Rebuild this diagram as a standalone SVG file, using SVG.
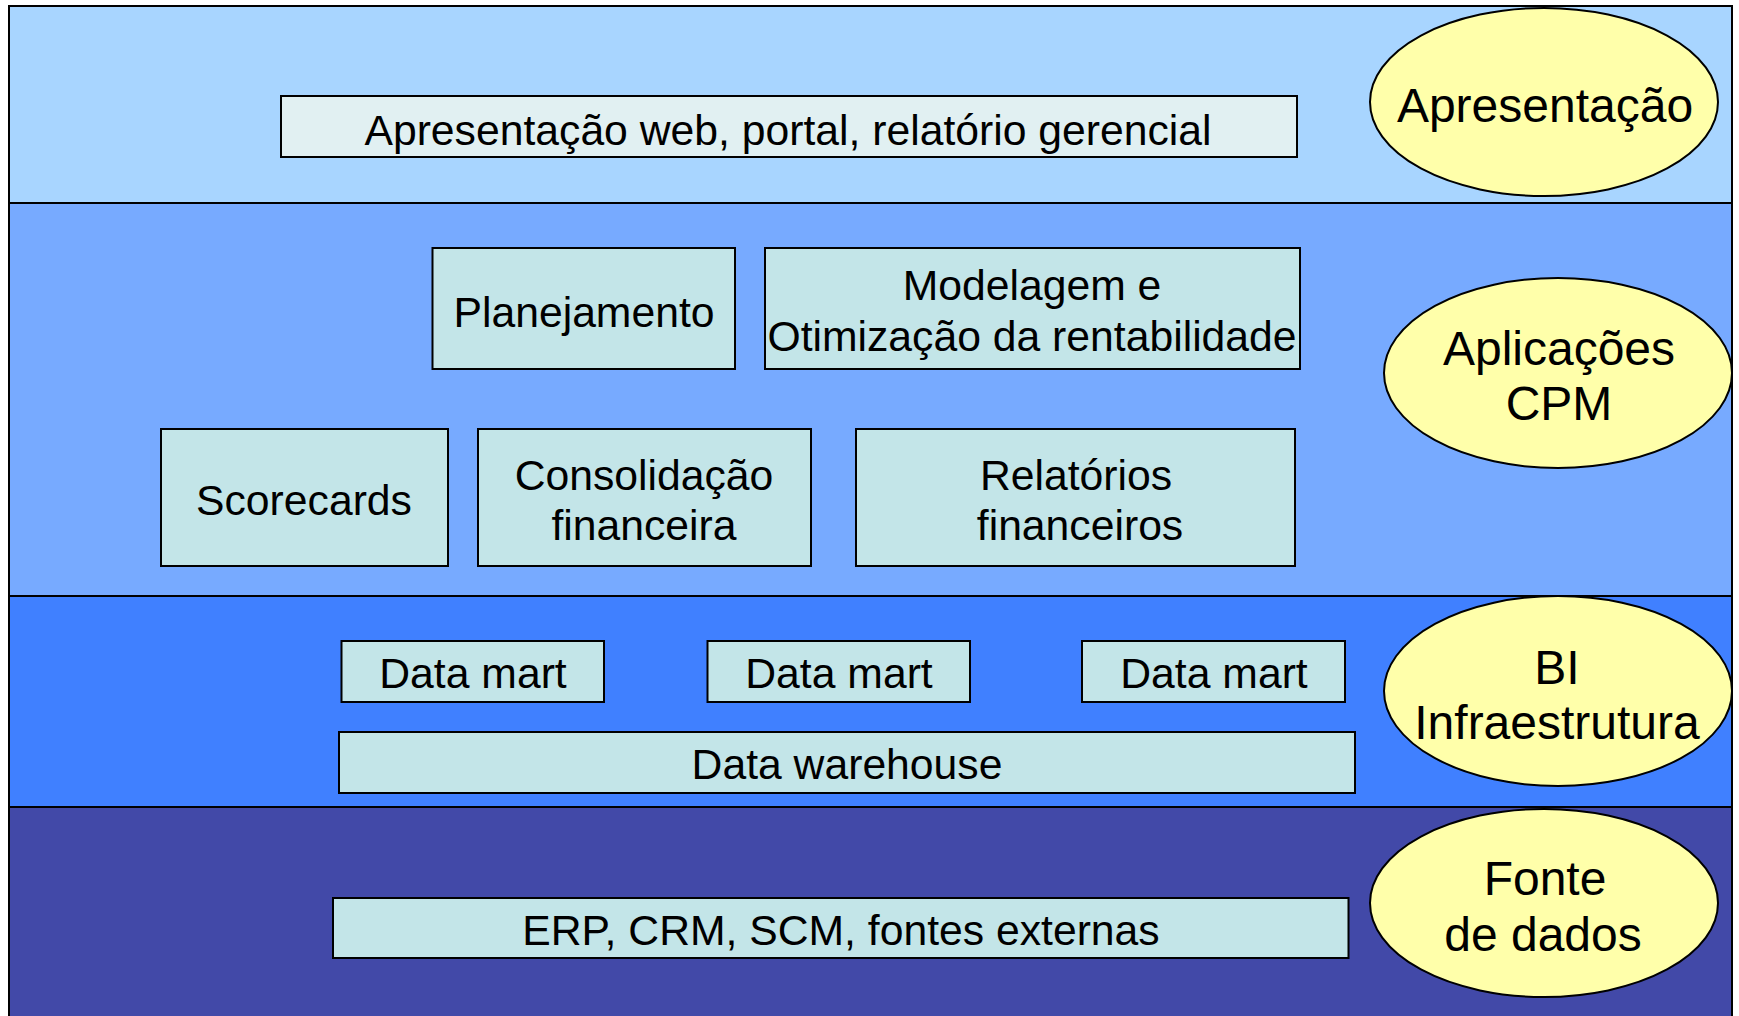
<svg xmlns="http://www.w3.org/2000/svg" width="1739" height="1016" viewBox="0 0 1739 1016">
<style>
.band{stroke:#000;stroke-width:2}
.box{fill:#C3E5E8;stroke:#000;stroke-width:2}
.ell{fill:#FFFFAA;stroke:#000;stroke-width:2}
text{font-family:"Liberation Sans",Arial,sans-serif;fill:#000;text-anchor:middle}
.t{font-size:42.7px}
.e{font-size:48px}
</style>
<rect width="1739" height="1016" fill="#fff"/>
<g id="bands">
<rect class="band" x="9" y="6" width="1723" height="197" fill="#A8D5FF"/>
<rect class="band" x="9" y="203" width="1723" height="393" fill="#77AAFF"/>
<rect class="band" x="9" y="596" width="1723" height="211" fill="#4080FF"/>
<rect class="band" x="9" y="807" width="1723" height="215" fill="#4249A8"/>
</g>
<g id="connectors"></g>
<g id="n-web">
<rect x="281" y="96" width="1016" height="61" fill="#E1F0F2" stroke="#000" stroke-width="2"/>
<text class="t" x="788" y="145">Apresentação web, portal, relatório gerencial</text>
</g>
<g id="n-planejamento">
<rect class="box" x="432.5" y="248" width="302.5" height="121"/>
<text class="t" x="584" y="327">Planejamento</text>
</g>
<g id="n-modelagem">
<rect class="box" x="765" y="248" width="535" height="121"/>
<text class="t" x="1032" y="300">Modelagem e</text>
<text class="t" x="1032" y="351">Otimização da rentabilidade</text>
</g>
<g id="n-scorecards">
<rect class="box" x="161" y="429" width="287" height="137"/>
<text class="t" x="304" y="515">Scorecards</text>
</g>
<g id="n-consolidacao">
<rect class="box" x="478" y="429" width="333" height="137"/>
<text class="t" x="644" y="490">Consolidação</text>
<text class="t" x="644" y="540">financeira</text>
</g>
<g id="n-relatorios">
<rect class="box" x="856" y="429" width="439" height="137"/>
<text class="t" x="1076" y="490">Relatórios</text>
<text class="t" x="1080" y="540">financeiros</text>
</g>
<g id="n-dm1">
<rect class="box" x="341.5" y="641" width="262.5" height="61"/>
<text class="t" x="473" y="688">Data mart</text>
</g>
<g id="n-dm2">
<rect class="box" x="707.5" y="641" width="262.5" height="61"/>
<text class="t" x="839" y="688">Data mart</text>
</g>
<g id="n-dm3">
<rect class="box" x="1082" y="641" width="263" height="61"/>
<text class="t" x="1214" y="688">Data mart</text>
</g>
<g id="n-dw">
<rect class="box" x="339" y="732" width="1016" height="61"/>
<text class="t" x="847" y="779">Data warehouse</text>
</g>
<g id="n-erp">
<rect class="box" x="333" y="898" width="1015.5" height="60"/>
<text class="t" x="841" y="945">ERP, CRM, SCM, fontes externas</text>
</g>
<g id="n-l-apresentacao">
<ellipse class="ell" cx="1544" cy="102" rx="174" ry="94"/>
<text class="e" x="1545" y="122">Apresentação</text>
</g>
<g id="n-l-aplicacoes">
<ellipse class="ell" cx="1558" cy="373" rx="174" ry="95"/>
<text class="e" x="1559" y="365">Aplicações</text>
<text class="e" x="1559" y="420">CPM</text>
</g>
<g id="n-l-bi">
<ellipse class="ell" cx="1558" cy="691" rx="174" ry="95"/>
<text class="e" x="1557" y="684">BI</text>
<text class="e" x="1557" y="739">Infraestrutura</text>
</g>
<g id="n-l-fonte">
<ellipse class="ell" cx="1544" cy="903" rx="174" ry="94"/>
<text class="e" x="1545" y="895">Fonte</text>
<text class="e" x="1543" y="951">de dados</text>
</g>
</svg>
